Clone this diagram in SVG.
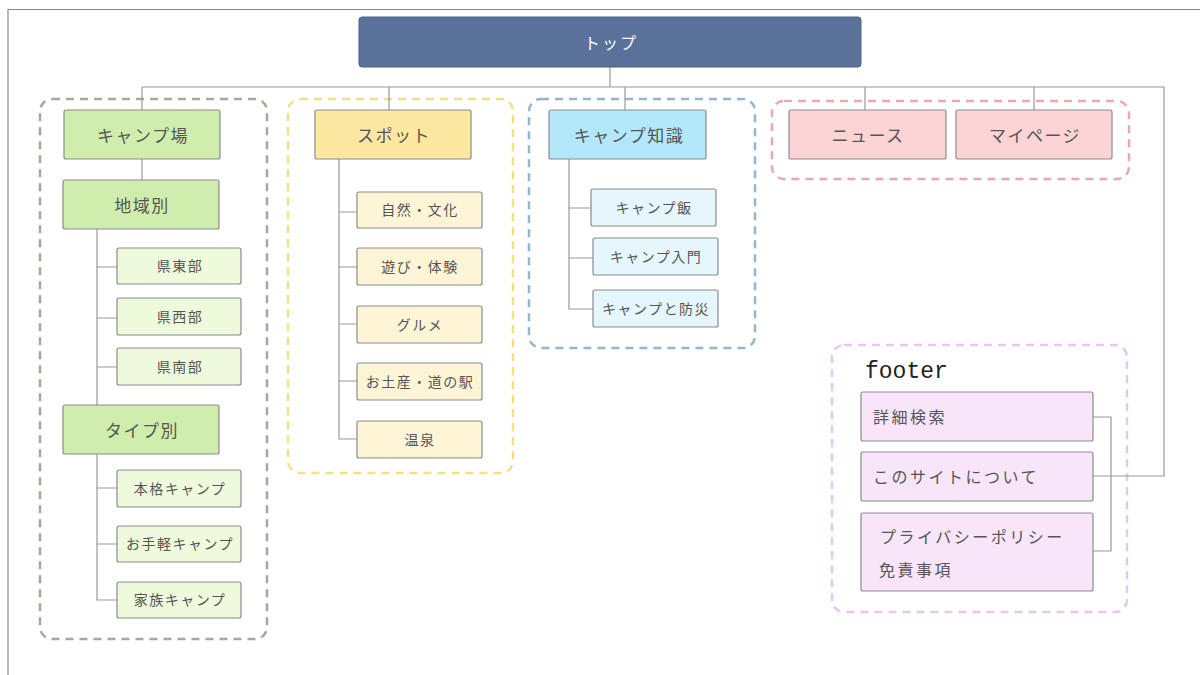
<svg xmlns="http://www.w3.org/2000/svg" width="1200" height="675" viewBox="0 0 1200 675">
<style>
text{font-family:"Noto Sans CJK JP","Noto Sans",sans-serif;fill:#555;text-anchor:middle;dominant-baseline:central}
.grp{fill:none;stroke-width:2.5;stroke-dasharray:8 6}
.box{stroke:#8c8c8c;stroke-width:1.2}
.main{font-size:17px;letter-spacing:1.5px}
.sub{font-size:14px;letter-spacing:1.5px}
.ft{font-size:16px;letter-spacing:2.5px;text-anchor:start}
.g1{fill:#cfeeae}.g2{fill:#effadc}
.y1{fill:#fde8a2}.y2{fill:#fdf5d6}
.b1{fill:#b3e7fa}.b2{fill:#e5f7fd}
.p1{fill:#fcd4d6}
.v1{fill:#f8e5fa}
#conn path{fill:none;stroke:#999;stroke-width:1.2}
</style>
<rect width="1200" height="675" fill="#fff"/>
<path d="M8 675V9.5H1200" fill="none" stroke="#8a8a8a" stroke-width="1.2"/>

<g id="groups">
<rect id="grp-camp" class="grp" x="40" y="99" width="227" height="540" rx="12" stroke="#a6a999"/>
<rect id="grp-spot" class="grp" x="288" y="99" width="225" height="374" rx="12" stroke="#efe08a"/>
<rect id="grp-know" class="grp" x="529" y="99" width="226" height="249" rx="12" stroke="#96b6c9"/>
<rect id="grp-news" class="grp" x="772" y="101" width="357" height="78" rx="12" stroke="#e8aab2"/>
<rect id="grp-footer" class="grp" x="832" y="345" width="295" height="267" rx="12" stroke="#e8c6ee"/>
</g>

<g id="conn">
<path d="M610 67V87M142 87H1164M142 87V110M389 87V110M625 87V110M865 87V110M1034 87V110M1164 87V476H1093"/>
<path d="M142 159V180"/>
<path d="M97 229V405M97 267H117M97 318H117M97 367H117"/>
<path d="M97 454V600H117M97 488H117M97 544H117"/>
<path d="M339 159V439H357M339 212H357M339 267H357M339 324H357M339 381H357"/>
<path d="M569 159V309H593M569 208H591M569 258H593"/>
<path d="M1093 417H1111V551H1093"/>
</g>

<g id="top"><rect x="359" y="17" width="502" height="50" rx="3" fill="#5a7299" stroke="#4c6286" stroke-width="1"/><text x="611" y="42" style="font-size:16px;letter-spacing:2px;fill:#fff">トップ</text></g>

<g id="camp"><rect class="box g1" x="64" y="110" width="156" height="49" rx="2"/><text class="main" x="143" y="134">キャンプ場</text></g>
<g id="region"><rect class="box g1" x="63" y="180" width="156" height="49" rx="2"/><text class="main" x="142" y="204">地域別</text></g>
<g id="east"><rect class="box g2" x="117" y="248" width="124" height="36" rx="2"/><text class="sub" x="180" y="265">県東部</text></g>
<g id="west"><rect class="box g2" x="117" y="298" width="124" height="37" rx="2"/><text class="sub" x="180" y="316">県西部</text></g>
<g id="south"><rect class="box g2" x="117" y="348" width="124" height="37" rx="2"/><text class="sub" x="180" y="366">県南部</text></g>
<g id="type"><rect class="box g1" x="63" y="405" width="156" height="49" rx="2"/><text class="main" x="142" y="429">タイプ別</text></g>
<g id="honkaku"><rect class="box g2" x="117" y="470" width="124" height="37" rx="2"/><text class="sub" x="180" y="488">本格キャンプ</text></g>
<g id="otegaru"><rect class="box g2" x="117" y="526" width="124" height="36" rx="2"/><text class="sub" x="180" y="543">お手軽キャンプ</text></g>
<g id="kazoku"><rect class="box g2" x="117" y="582" width="124" height="36" rx="2"/><text class="sub" x="180" y="599">家族キャンプ</text></g>

<g id="spot"><rect class="box y1" x="315" y="110" width="156" height="49" rx="2"/><text class="main" x="394" y="134">スポット</text></g>
<g id="nature"><rect class="box y2" x="357" y="192" width="125" height="36" rx="2"/><text class="sub" x="420" y="209">自然・文化</text></g>
<g id="play"><rect class="box y2" x="357" y="248" width="125" height="37" rx="2"/><text class="sub" x="420" y="266">遊び・体験</text></g>
<g id="gourmet"><rect class="box y2" x="357" y="306" width="125" height="37" rx="2"/><text class="sub" x="420" y="324">グルメ</text></g>
<g id="souvenir"><rect class="box y2" x="357" y="363" width="125" height="37" rx="2"/><text class="sub" x="420" y="381">お土産・道の駅</text></g>
<g id="onsen"><rect class="box y2" x="357" y="421" width="125" height="37" rx="2"/><text class="sub" x="420" y="439">温泉</text></g>

<g id="know"><rect class="box b1" x="549" y="110" width="157" height="49" rx="2"/><text class="main" x="629" y="134">キャンプ知識</text></g>
<g id="meshi"><rect class="box b2" x="591" y="189" width="125" height="37" rx="2"/><text class="sub" x="654" y="207">キャンプ飯</text></g>
<g id="nyumon"><rect class="box b2" x="593" y="238" width="125" height="37" rx="2"/><text class="sub" x="656" y="256">キャンプ入門</text></g>
<g id="bosai"><rect class="box b2" x="593" y="290" width="125" height="37" rx="2"/><text class="sub" x="656" y="308">キャンプと防災</text></g>

<g id="news"><rect class="box p1" x="789" y="110" width="157" height="49" rx="2"/><text class="main" x="868" y="134">ニュース</text></g>
<g id="mypage"><rect class="box p1" x="956" y="110" width="156" height="49" rx="2"/><text class="main" x="1035" y="134">マイページ</text></g>

<g id="footer-label"><text x="865" y="372" style="font-family:'Liberation Mono','DejaVu Sans Mono',monospace;font-size:23px;fill:#222;text-anchor:start">footer</text></g>
<g id="search"><rect class="box v1" x="861" y="392" width="232" height="49" rx="2"/><text class="ft" x="873" y="416">詳細検索</text></g>
<g id="about"><rect class="box v1" x="861" y="452" width="232" height="49" rx="2"/><text class="ft" x="873" y="476">このサイトについて</text></g>
<g id="privacy"><rect class="box v1" x="861" y="513" width="232" height="78" rx="2"/><text class="ft" x="880" y="536">プライバシーポリシー</text><text class="ft" x="879" y="569">免責事項</text></g>
</svg>
